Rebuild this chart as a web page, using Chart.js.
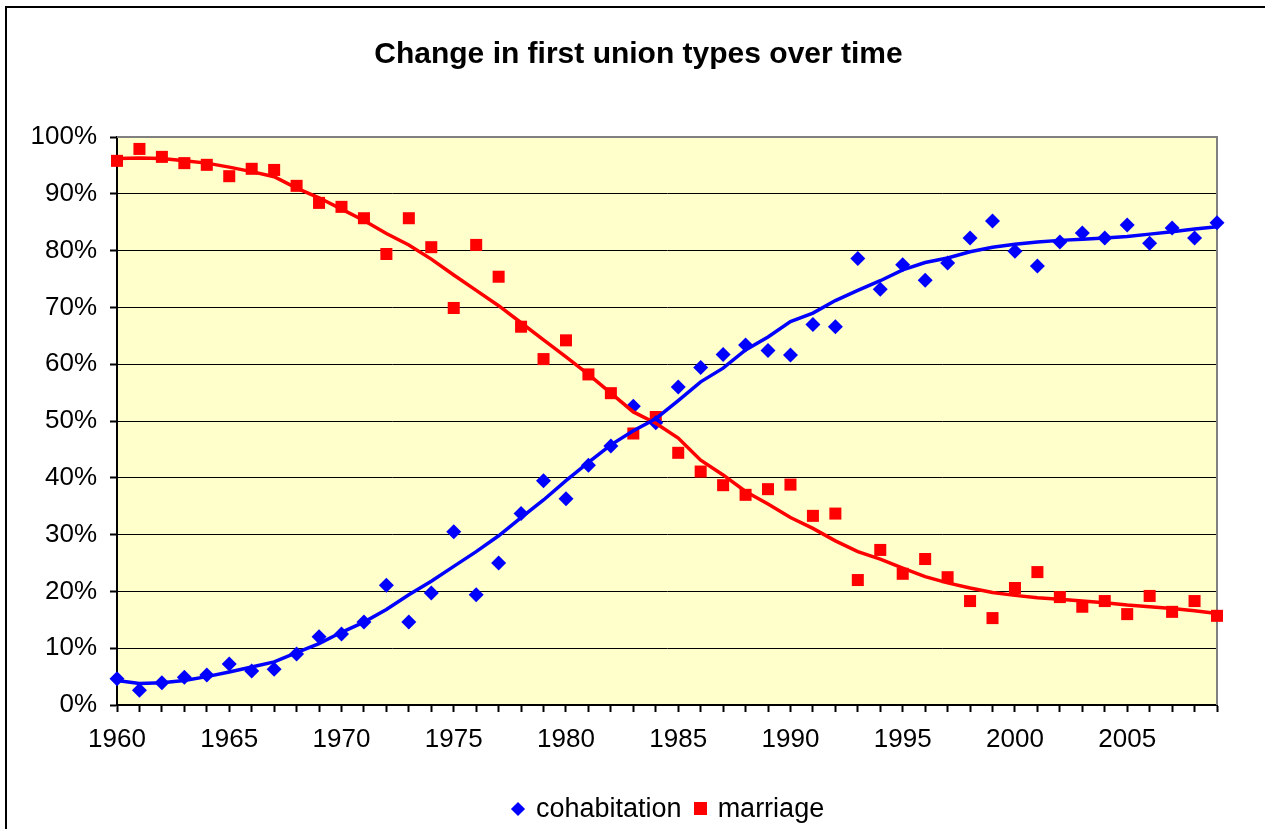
<!DOCTYPE html>
<html>
<head>
<meta charset="utf-8">
<title>Change in first union types over time</title>
<script src="https://cdn.jsdelivr.net/npm/chart.js@4.4.0/dist/chart.umd.min.js"></script>
<style>
    html, body { margin: 0; padding: 0; background: #fff; overflow: hidden; }
    #frame { position: absolute; left: 5px; top: 6px; width: 1400px; height: 1000px; border: 2px solid #000; }
    #chartCanvas { position: absolute; left: 0; top: 0; }
    #chartTitle { position: absolute; left: 0; top: 35px; width: 1277px; text-align: center;
                  font: bold 30px 'Liberation Sans', Arial, sans-serif; line-height: 36px; color: #000; }
    #legend { position: absolute; left: 511px; top: 793px; display: flex; align-items: center;
              font: 27px 'Liberation Sans', Arial, sans-serif; line-height: 31px; color: #000; }
    .legend-item { display: flex; align-items: center; margin-right: 12px; }
    .marker-diamond { width: 10px; height: 10px; transform: rotate(45deg); margin-left: 2px; margin-right: 13px; }
    .marker-square { width: 13px; height: 13px; margin-right: 11px; }
</style>
</head>
<body>
<div id="frame"></div>
<canvas id="chartCanvas" width="1265" height="829"></canvas>
<div id="chartTitle"></div>
<div id="legend"></div>

<script>
// Chart data
const chartTitle = 'Change in first union types over time';

const years = [
    1960, 1961, 1962, 1963, 1964, 1965, 1966, 1967, 1968, 1969,
    1970, 1971, 1972, 1973, 1974, 1975, 1976, 1977, 1978, 1979,
    1980, 1981, 1982, 1983, 1984, 1985, 1986, 1987, 1988, 1989,
    1990, 1991, 1992, 1993, 1994, 1995, 1996, 1997, 1998, 1999,
    2000, 2001, 2002, 2003, 2004, 2005, 2006, 2007, 2008, 2009
];

// share of first unions (%)
const cohabitation = [
    4.6, 2.6, 3.9, 4.9, 5.3, 7.2, 6.0, 6.3, 9.0, 12.0,
    12.5, 14.6, 21.1, 14.6, 19.7, 30.5, 19.4, 25.0, 33.7, 39.5,
    36.3, 42.2, 45.6, 52.6, 49.7, 56.0, 59.4, 61.7, 63.4, 62.4,
    61.6, 67.0, 66.6, 78.6, 73.2, 77.5, 74.8, 77.8, 82.2, 85.2,
    79.9, 77.3, 81.5, 83.1, 82.2, 84.5, 81.3, 84.0, 82.2, 84.9
];

const marriage = [
    95.8, 97.9, 96.5, 95.4, 95.1, 93.1, 94.4, 94.2, 91.4, 88.4,
    87.7, 85.7, 79.4, 85.7, 80.6, 69.9, 81.0, 75.4, 66.6, 60.9,
    64.2, 58.2, 54.9, 47.8, 50.7, 44.4, 41.1, 38.7, 37.0, 38.0,
    38.8, 33.3, 33.7, 22.0, 27.3, 23.1, 25.7, 22.5, 18.3, 15.3,
    20.6, 23.4, 19.0, 17.3, 18.3, 16.0, 19.2, 16.4, 18.3, 15.7
];

// trend lines as drawn on the chart
const cohabitationTrend = [
    4.3, 3.8, 3.9, 4.3, 5.0, 5.8, 6.7, 7.6, 9.2, 10.8,
    12.8, 14.6, 16.8, 19.4, 21.8, 24.4, 27.0, 29.8, 33.0, 36.1,
    39.5, 42.7, 45.8, 48.3, 50.4, 53.6, 56.9, 59.3, 62.5, 64.8,
    67.5, 69.0, 71.2, 73.0, 74.7, 76.6, 77.9, 78.7, 79.8, 80.6,
    81.1, 81.5, 81.8, 82.0, 82.2, 82.5, 82.9, 83.3, 83.8, 84.2
];

const marriageTrend = [
    96.2, 96.3, 96.2, 95.8, 95.4, 94.7, 93.9, 93.0, 91.0, 89.3,
    87.3, 85.3, 83.0, 81.0, 78.5, 75.7, 73.0, 70.3, 67.3, 64.3,
    61.3, 58.2, 54.9, 51.6, 49.6, 47.0, 43.1, 40.5, 37.6, 35.4,
    33.0, 31.1, 28.9, 27.0, 25.7, 24.1, 22.6, 21.5, 20.6, 19.8,
    19.3, 18.9, 18.6, 18.3, 18.0, 17.6, 17.3, 17.0, 16.6, 16.1
];

const yTicks = [0, 10, 20, 30, 40, 50, 60, 70, 80, 90, 100];

document.addEventListener('DOMContentLoaded', function() {
    document.getElementById('chartTitle').textContent = chartTitle;
    const chart = initializeChart();
    buildLegend(chart);
});

// Yellow plot background plus the grey top/right frame
const plotFramePlugin = {
    id: 'plotFrame',
    beforeDraw(chart) {
        const { ctx, chartArea } = chart;
        ctx.save();
        ctx.fillStyle = '#FFFFCC';
        ctx.fillRect(chartArea.left, chartArea.top, chartArea.width, chartArea.height);
        ctx.restore();
    },
    beforeDatasetsDraw(chart) {
        const { ctx, chartArea } = chart;
        ctx.save();
        ctx.strokeStyle = '#808080';
        ctx.lineWidth = 2;
        ctx.beginPath();
        ctx.moveTo(chartArea.left, chartArea.top);
        ctx.lineTo(chartArea.right, chartArea.top);
        ctx.lineTo(chartArea.right, chartArea.bottom);
        ctx.stroke();
        ctx.restore();
    }
};

function initializeChart() {
    const ctx = document.getElementById('chartCanvas');

    Chart.defaults.font.family = "'Liberation Sans', Arial, sans-serif";
    Chart.defaults.color = '#000';

    return new Chart(ctx, {
        type: 'line',
        data: {
            labels: years,
            datasets: [{
                label: 'cohabitation',
                data: cohabitation,
                showLine: false,
                pointStyle: 'rectRot',
                pointRadius: 7.5,
                pointBorderWidth: 0,
                backgroundColor: '#0000FF',
                borderColor: '#0000FF',
                clip: false,
                order: 2
            }, {
                label: 'marriage',
                data: marriage,
                showLine: false,
                pointStyle: 'rect',
                pointRadius: 8.5,
                pointBorderWidth: 0,
                backgroundColor: '#FF0000',
                borderColor: '#FF0000',
                clip: false,
                order: 2
            }, {
                label: 'cohabitation trend',
                data: cohabitationTrend,
                borderColor: '#0000FF',
                borderWidth: 3.5,
                pointRadius: 0,
                tension: 0,
                fill: false,
                order: 1
            }, {
                label: 'marriage trend',
                data: marriageTrend,
                borderColor: '#FF0000',
                borderWidth: 3.5,
                pointRadius: 0,
                tension: 0,
                fill: false,
                order: 1
            }]
        },
        options: {
            responsive: false,
            animation: false,
            events: [],
            layout: {
                padding: { left: 6, right: 48, top: 137, bottom: 0 }
            },
            plugins: {
                title: { display: false },
                legend: { display: false },
                tooltip: { enabled: false }
            },
            scales: {
                x: {
                    type: 'category',
                    offset: false,
                    grid: {
                        drawOnChartArea: false,
                        tickLength: 7,
                        tickWidth: 2,
                        tickColor: '#000'
                    },
                    border: { color: '#000', width: 2 },
                    ticks: {
                        autoSkip: false,
                        maxRotation: 0,
                        padding: 12,
                        font: { size: 26 },
                        callback: function(value, index) {
                            const year = years[index];
                            return year % 5 === 0 ? String(year) : '';
                        }
                    },
                    afterFit: function(scale) {
                        scale.height = 124;
                    }
                },
                y: {
                    min: yTicks[0],
                    max: yTicks[yTicks.length - 1],
                    grid: {
                        color: '#000',
                        lineWidth: 1,
                        tickLength: 7,
                        tickWidth: 2,
                        tickColor: '#000'
                    },
                    border: { color: '#000', width: 2 },
                    ticks: {
                        stepSize: 10,
                        padding: 13,
                        font: { size: 26 },
                        callback: value => value + '%'
                    },
                    afterFit: function(scale) {
                        scale.width = 111;
                    }
                }
            }
        },
        plugins: [plotFramePlugin]
    });
}

// HTML legend for the two marker series only
function buildLegend(chart) {
    const legend = document.getElementById('legend');
    chart.data.datasets.forEach(ds => {
        if (ds.showLine !== false) return;
        const item = document.createElement('span');
        item.className = 'legend-item';
        const marker = document.createElement('span');
        marker.className = ds.pointStyle === 'rectRot' ? 'marker-diamond' : 'marker-square';
        marker.style.background = ds.backgroundColor;
        const text = document.createElement('span');
        text.textContent = ds.label;
        item.appendChild(marker);
        item.appendChild(text);
        legend.appendChild(item);
    });
}
</script>
</body>
</html>
